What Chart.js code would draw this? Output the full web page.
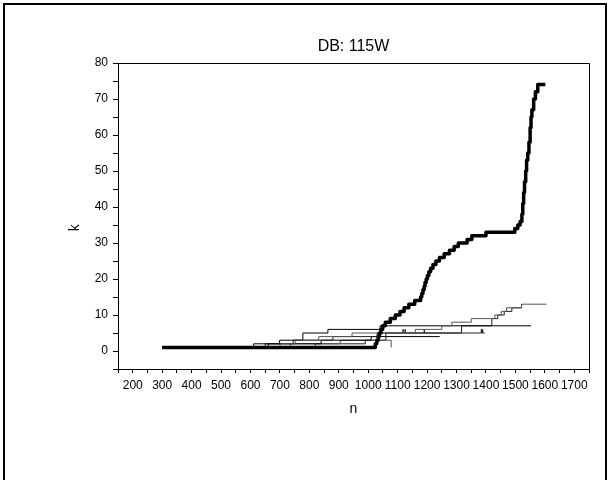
<!DOCTYPE html>
<html>
<head>
<meta charset="utf-8">
<script src="https://cdn.jsdelivr.net/npm/chart.js@4"></script>
<style>
html, body { margin: 0; padding: 0; background: #fff; }
#wrap { width: 611px; height: 480px; }
</style>
</head>
<body>
<div id="wrap"><canvas id="kChart"></canvas></div>
<script>
// main run (thick line)
const mainN = [300, 1018, 1024, 1029, 1034, 1038, 1043, 1049, 1058, 1075, 1092, 1108, 1122, 1138, 1158, 1178, 1182, 1186, 1190, 1193, 1197, 1201, 1206, 1212, 1220, 1230, 1242, 1258, 1276, 1292, 1306, 1336, 1352, 1400, 1498, 1508, 1516, 1522, 1525, 1528, 1531, 1535, 1538, 1542, 1546, 1550, 1553, 1556, 1562, 1568, 1576, 1602];
const mainK = [1, 1, 2, 3, 4, 5, 6, 7, 8, 9, 10, 11, 12, 13, 14, 15, 16, 17, 18, 19, 20, 21, 22, 23, 24, 25, 26, 27, 28, 29, 30, 31, 32, 33, 34, 35, 36, 38, 41, 44, 47, 50, 53, 55, 58, 62, 65, 67, 70, 72, 74, 74];

// other runs (thin lines)
const run1N = [300, 700, 752, 832, 945, 1160, 1250, 1284, 1350, 1430, 1452, 1470, 1521, 1606];
const run1K = [1, 2, 3, 4, 5, 6, 7, 8, 9, 10, 11, 12, 13, 13];
const run2N = [300, 611, 699, 778, 863, 1040, 1553];
const run2K = [1, 2, 3, 5, 6, 7, 7];
const run3N = [300, 650, 745, 880, 1030, 1118, 1119, 1125, 1126, 1190, 1191, 1384, 1385, 1388, 1389, 1396];
const run3K = [1, 2, 3, 4, 5, 6, 5, 6, 5, 6, 5, 6, 5, 6, 5, 5];
const run4N = [300, 660, 840, 1010, 1243];
const run4K = [1, 2, 3, 4, 4];
const run5N = [300, 735, 905, 1078, 1078];
const run5K = [1, 2, 3, 3, 1];
const run6N = [300, 820, 990, 1060, 1317, 1420, 1440, 1462, 1488, 1521];
const run6K = [1, 2, 3, 5, 7, 9, 10, 11, 12, 13];

const xTicks = [200, 300, 400, 500, 600, 700, 800, 900, 1000, 1100, 1200, 1300, 1400, 1500, 1600, 1700];

function pts(ns, ks) {
    return ns.map((n, i) => ({x: n, y: ks[i]}));
}

function thin(ns, ks, color) {
    return {
        data: pts(ns, ks),
        borderColor: color,
        borderWidth: 1,
        pointRadius: 0,
        stepped: true,
        showLine: true,
        fill: false
    };
}

const FONT = 'Liberation Sans, Arial, Helvetica, sans-serif';

// frame round the page and box round the plot
const frame = {
    id: 'frame',
    afterDraw(chart) {
        const c = chart.ctx;
        const a = chart.chartArea;
        c.save();
        c.strokeStyle = '#000';
        c.lineWidth = 1;
        c.beginPath();
        c.moveTo(a.left, a.top + 0.5);
        c.lineTo(a.right + 0.5, a.top + 0.5);
        c.lineTo(a.right + 0.5, a.bottom);
        c.stroke();
        c.lineWidth = 2;
        c.beginPath();
        c.moveTo(4, 480);
        c.lineTo(4, 4);
        c.lineTo(606, 4);
        c.lineTo(606, 480);
        c.stroke();
        c.restore();
    }
};

const ctx = document.getElementById('kChart');

new Chart(ctx, {
    type: 'scatter',
    data: {
        datasets: [
            {
                data: pts(mainN, mainK),
                borderColor: '#000',
                borderWidth: 3.5,
                borderJoinStyle: 'round',
                pointRadius: 0,
                stepped: true,
                showLine: true,
                fill: false
            },
            thin(run1N, run1K, '#555'),
            thin(run2N, run2K, '#000'),
            thin(run3N, run3K, '#222'),
            thin(run4N, run4K, '#000'),
            thin(run5N, run5K, '#555'),
            thin(run6N, run6K, '#222')
        ]
    },
    options: {
        responsive: true,
        maintainAspectRatio: false,
        animation: false,
        layout: {
            padding: {left: 0, right: 22, top: 0, bottom: 51}
        },
        plugins: {
            legend: {display: false},
            tooltip: {enabled: false}
        },
        scales: {
            // top axis only carries the chart title, centred over the plot
            top: {
                type: 'linear',
                axis: 'x',
                position: 'top',
                min: 150,
                max: 1750,
                afterFit: s => { s.height = 63; },
                ticks: {display: false},
                grid: {display: false, drawTicks: false},
                border: {display: false},
                title: {
                    display: true,
                    text: 'DB: 115W',
                    color: '#000',
                    font: {family: FONT, size: 16},
                    padding: {top: 37, bottom: 0}
                }
            },
            x: {
                type: 'linear',
                min: 150,
                max: 1750,
                afterFit: s => { s.height = 60; },
                ticks: {
                    stepSize: 50,
                    autoSkip: false,
                    maxRotation: 0,
                    padding: 5,
                    color: '#000',
                    font: {family: FONT, size: 12},
                    callback: v => xTicks.includes(v) ? String(v) : ''
                },
                grid: {drawOnChartArea: false, tickLength: 4, color: '#000'},
                border: {color: '#000', width: 1},
                title: {
                    display: true,
                    text: 'n',
                    color: '#000',
                    font: {family: FONT, size: 14},
                    padding: {top: 0, bottom: 11}
                }
            },
            y: {
                min: -5,
                max: 80,
                afterFit: s => { s.width = 118; },
                ticks: {
                    stepSize: 5,
                    autoSkip: false,
                    padding: 5,
                    color: '#000',
                    font: {family: FONT, size: 12},
                    callback: v => v % 10 === 0 ? String(v) : ''
                },
                grid: {drawOnChartArea: false, tickLength: 5, color: '#000'},
                border: {color: '#000', width: 1},
                title: {
                    display: true,
                    text: 'k      ',
                    color: '#000',
                    font: {family: FONT, size: 14},
                    padding: {top: 67, bottom: 0}
                }
            }
        }
    },
    plugins: [frame]
});
</script>
</body>
</html>
